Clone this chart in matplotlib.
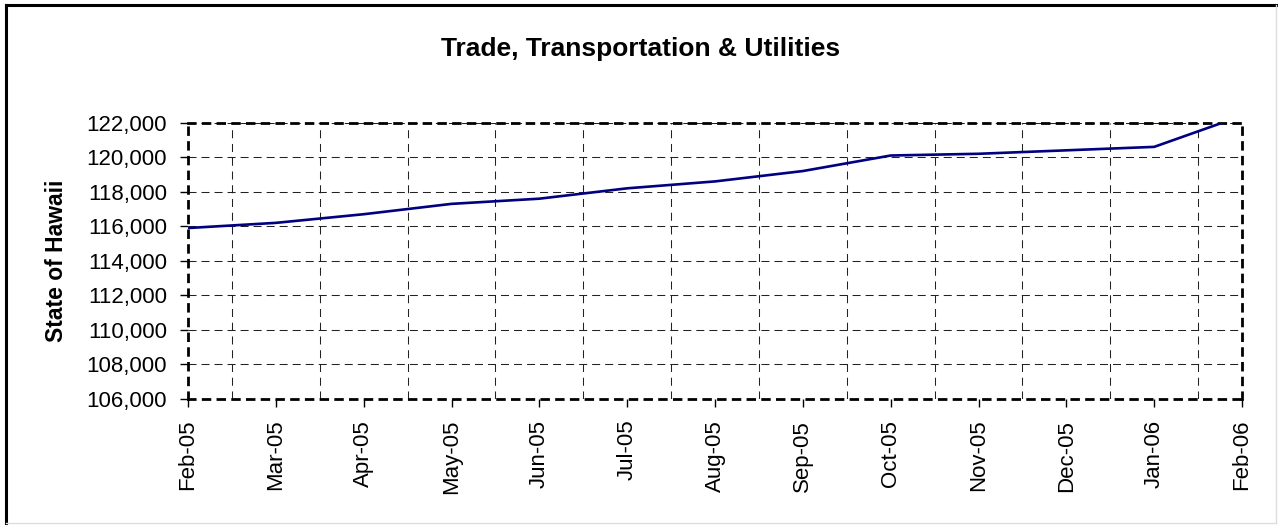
import matplotlib
matplotlib.use("Agg")
import matplotlib.pyplot as plt
from matplotlib.lines import Line2D
from matplotlib.ticker import FuncFormatter, MultipleLocator

months = ["Feb-05", "Mar-05", "Apr-05", "May-05", "Jun-05", "Jul-05", "Aug-05",
          "Sep-05", "Oct-05", "Nov-05", "Dec-05", "Jan-06", "Feb-06"]
jobs = [115900, 116200, 116700, 117300, 117600, 118200, 118600,
        119200, 120100, 120200, 120400, 120600, 122400]

plt.rcParams['font.family'] = ['Liberation Sans', 'DejaVu Sans']

W, H = 1278, 525
fig = plt.figure(figsize=(W / 100, H / 100), dpi=100)
ax = fig.add_axes([188 / W, 1 - 399 / H, (1242 - 188) / W, (399 - 122.7) / H])

x = list(range(len(months)))
ax.plot(x, jobs, color="#000080", lw=1.9, zorder=5)

ax.set_xlim(0, len(months) - 1)
ax.set_ylim(106000, 122000)
ax.yaxis.set_major_locator(MultipleLocator(2000))
ax.yaxis.set_major_formatter(FuncFormatter(lambda v, p: f"{int(v):,}"))
ax.set_xticks(x)
ax.set_xticklabels(months, rotation=90)
ax.xaxis.set_minor_locator(MultipleLocator(0.5))

# gridlines
ax.grid(True, which="major", axis="y", color="#222222", lw=0.75, linestyle=(0, (7.7, 4.8)))
ax.grid(True, which="minor", axis="x", color="#222222", lw=0.75, linestyle=(0, (7.7, 5.5)))
ax.set_axisbelow(True)

ax.tick_params(axis="both", which="major", labelsize=16, direction="out", length=6,
               width=1, color="black", pad=9)
ax.tick_params(axis="x", which="minor", length=0)

for s in ax.spines.values():
    s.set_linewidth(2)
    s.set_linestyle((0, (2.4, 2.9)))
    s.set_color("black")

ax.set_ylabel("State of Hawaii", fontsize=16.5, fontweight="bold")
ax.yaxis.set_label_coords(-(188 - 68) / (1242 - 188), 0.5)
fig.text(641 / W, 1 - 49 / H, "Trade, Transportation & Utilities", fontsize=19,
         fontweight="bold", ha="center", va="center")

# chart frame
fig.add_artist(Line2D([6 / W, 6 / W], [1 - 5 / H, 1 - 523 / H], color="black", lw=2.2))
fig.add_artist(Line2D([6 / W, 1276 / W], [1 - 5 / H, 1 - 5 / H], color="black", lw=2.2))
fig.add_artist(Line2D([6 / W, 1276 / W], [1 - 523 / H, 1 - 523 / H], color="#dddddd", lw=1))
fig.add_artist(Line2D([1276 / W, 1276 / W], [1 - 5 / H, 1 - 523 / H], color="#dddddd", lw=1))

fig.savefig("out.png", dpi=100)
